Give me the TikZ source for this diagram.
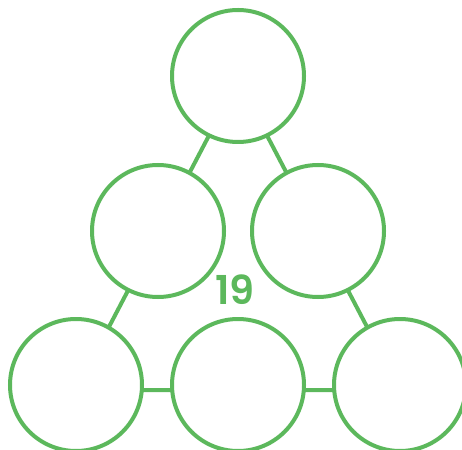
\documentclass[tikz,border=0pt]{standalone}
\usepackage{fontspec}
\setmainfont{Poppins}
\newfontfamily\numfont{Poppins SemiBold}
\definecolor{grn}{RGB}{92,184,92}
\begin{document}
\begin{tikzpicture}[x=1bp,y=-1bp,
  ring/.style={circle,draw=grn,line width=4bp,fill=white,minimum size=132bp,inner sep=0pt},
  link/.style={draw=grn,line width=4bp}]
\useasboundingbox (0,0) rectangle (462,450);
\coordinate (ta) at (238,80);
\coordinate (tb) at (76,390);
\coordinate (tc) at (400,390);
\draw[link] (ta) -- (tb) -- (tc) -- cycle;
\node[ring] (top) at (238,76) {};
\node[ring] (ml) at (158,231) {};
\node[ring] (mr) at (318,231) {};
\node[ring] (bl) at (76,385) {};
\node[ring] (bc) at (238,385) {};
\node[ring] (br) at (400,385) {};
\node[text=grn,font=\fontsize{40}{40}\numfont] (num) at (235,290) {19};
\end{tikzpicture}
\end{document}
